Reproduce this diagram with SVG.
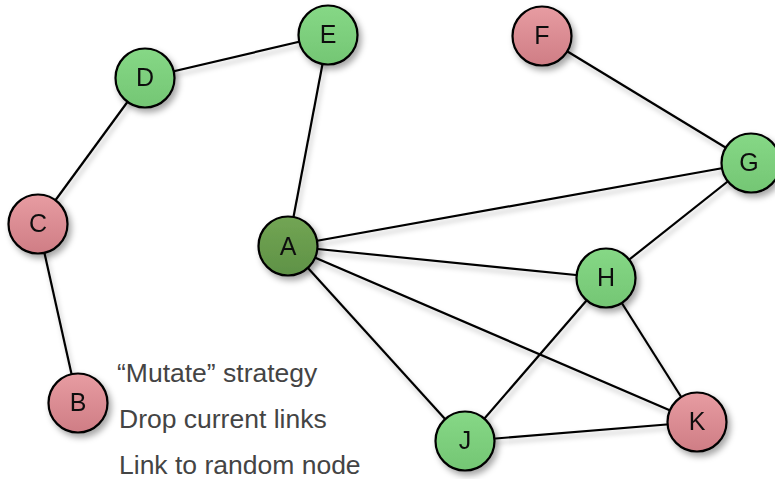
<svg xmlns="http://www.w3.org/2000/svg" width="775" height="479" viewBox="0 0 775 479">
<defs>
<filter id="sh" x="-30%" y="-30%" width="170%" height="170%">
<feDropShadow dx="3" dy="4" stdDeviation="3" flood-color="#000" flood-opacity="0.35"/>
</filter>
<filter id="lsh" x="-10%" y="-10%" width="120%" height="120%">
<feDropShadow dx="2" dy="4" stdDeviation="2.5" flood-color="#000" flood-opacity="0.25"/>
</filter>
<linearGradient id="gG" x1="0" y1="0" x2="0" y2="1">
<stop offset="0" stop-color="#86d886"/>
<stop offset="1" stop-color="#74c674"/>
</linearGradient>
<linearGradient id="gR" x1="0" y1="0" x2="0" y2="1">
<stop offset="0" stop-color="#e79ca2"/>
<stop offset="1" stop-color="#cf7d85"/>
</linearGradient>
<linearGradient id="gA" x1="0" y1="0" x2="0" y2="1">
<stop offset="0" stop-color="#72a554"/>
<stop offset="1" stop-color="#5f9246"/>
</linearGradient>
</defs>
<style>
.edge{stroke:#000;stroke-width:2.2;fill:none}
.node circle{stroke:#000;stroke-width:2.2}
.g circle{fill:url(#gG)}
.r circle{fill:url(#gR)}
.a circle{fill:url(#gA)}
.node{filter:url(#sh)}
.node text{font-family:"Liberation Sans",Arial,sans-serif;font-size:25px;fill:#111;text-anchor:middle;dominant-baseline:central}
.cap{font-family:"Liberation Sans",Arial,sans-serif;font-size:26.5px;fill:#444}
</style>
<rect width="775" height="479" fill="#fff"/>
<g id="connectors" filter="url(#lsh)">
<line class="edge" x1="145" y1="78" x2="328" y2="35"/>
<line class="edge" x1="328" y1="35" x2="288" y2="246"/>
<line class="edge" x1="145" y1="78" x2="38" y2="224"/>
<line class="edge" x1="38" y1="224" x2="78" y2="403"/>
<line class="edge" x1="542" y1="36" x2="751" y2="163"/>
<line class="edge" x1="288" y1="246" x2="751" y2="163"/>
<line class="edge" x1="751" y1="163" x2="606" y2="278"/>
<line class="edge" x1="288" y1="246" x2="606" y2="278"/>
<line class="edge" x1="288" y1="246" x2="697" y2="422"/>
<line class="edge" x1="288" y1="246" x2="465" y2="441"/>
<line class="edge" x1="606" y1="278" x2="465" y2="441"/>
<line class="edge" x1="606" y1="278" x2="697" y2="422"/>
<line class="edge" x1="465" y1="441" x2="697" y2="422"/>
</g>
<g id="node-A" class="node a"><circle cx="288" cy="246" r="29.5"/><text x="288" y="246">A</text></g>
<g id="node-B" class="node r"><circle cx="78" cy="403" r="29.5"/><text x="78" y="402">B</text></g>
<g id="node-C" class="node r"><circle cx="38" cy="224" r="29.5"/><text x="38" y="223">C</text></g>
<g id="node-D" class="node g"><circle cx="145" cy="78" r="29.5"/><text x="145" y="77">D</text></g>
<g id="node-E" class="node g"><circle cx="328" cy="35" r="29.5"/><text x="328" y="34">E</text></g>
<g id="node-F" class="node r"><circle cx="542" cy="36" r="29.5"/><text x="542" y="35">F</text></g>
<g id="node-G" class="node g"><circle cx="751" cy="163" r="29.5"/><text x="749" y="162">G</text></g>
<g id="node-H" class="node g"><circle cx="606" cy="278" r="29.5"/><text x="606" y="277">H</text></g>
<g id="node-J" class="node g"><circle cx="465" cy="441" r="29.5"/><text x="465" y="440">J</text></g>
<g id="node-K" class="node r"><circle cx="697" cy="422" r="29.5"/><text x="697" y="421">K</text></g>
<g id="caption">
<text class="cap" x="117" y="382">“Mutate” strategy</text>
<text class="cap" x="119" y="428">Drop current links</text>
<text class="cap" x="119" y="474">Link to random node</text>
</g>
</svg>
